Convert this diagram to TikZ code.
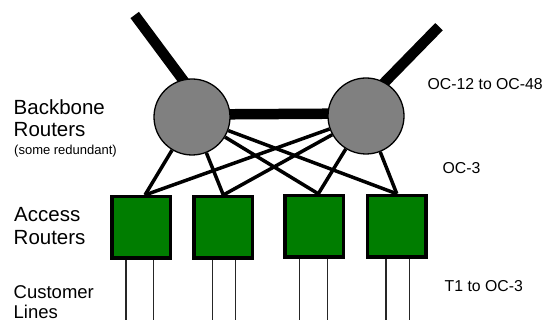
\documentclass[tikz,border=0pt]{standalone}
\usepackage{fontspec}
\setmainfont{Liberation Sans}
\usetikzlibrary{calc}
\definecolor{routergray}{RGB}{128,128,128}
\definecolor{accessgreen}{RGB}{0,125,0}
\pgfdeclarelayer{background}
\pgfsetlayers{background,main}
\begin{document}
\begin{tikzpicture}[x=1pt,y=-1pt,
  bbrouter/.style={circle, draw=black, line width=1.3pt, fill=routergray, minimum size=76pt, inner sep=0pt},
  accrouter/.style={rectangle, draw=black, line width=3.5pt, fill=accessgreen, minimum width=58.5pt, minimum height=61.5pt, inner sep=0pt},
  trunk/.style={line width=10.5pt},
  uplink/.style={line width=3.5pt},
  custline/.style={line width=1.1pt, draw=black!85},
  biglabel/.style={anchor=base west, inner sep=0pt, font=\fontsize{20.5}{22.5}\selectfont},
  midlabel/.style={anchor=base west, inner sep=0pt, font=\fontsize{18.5}{21}\selectfont},
  smalllabel/.style={anchor=base west, inner sep=0pt, font=\fontsize{13}{15}\selectfont},
  ratelabel/.style={anchor=base west, inner sep=0pt, font=\fontsize{15.8}{18}\selectfont}
]
\useasboundingbox (0,0) rectangle (546,320);

% backbone routers
\node[bbrouter] (L) at (192,117) {};
\node[bbrouter] (R) at (366,116) {};

% access routers
\node[accrouter] (a1) at (141,227.5) {};
\node[accrouter] (a2) at (223.3,227.5) {};
\node[accrouter] (a3) at (314.3,226.3) {};
\node[accrouter] (a4) at (396.8,226.3) {};

% free ends
\coordinate (tl) at (134.7,15);
\coordinate (tr) at (439,26.7);
\coordinate (c11) at (126,320);
\coordinate (c12) at (153.3,320);
\coordinate (c21) at (212.3,320);
\coordinate (c22) at (235.7,320);
\coordinate (c31) at (299.3,320);
\coordinate (c32) at (327.3,320);
\coordinate (c41) at (386,320);
\coordinate (c42) at (409.3,320);

\begin{pgfonlayer}{background}
  \draw[trunk] (tl) -- ($(tl)!1.2!(L.104)$);
  \draw[trunk] (tr) -- ($(tr)!1.2!(R.61)$);
  \draw[trunk] ([yshift=2.5pt]L.center) -- ([yshift=2.5pt]R.center);
  \draw[uplink] (L) -- ([xshift=4pt]a1.north);
  \draw[uplink] (L) -- (a2.north);
  \draw[uplink] (L) -- ([xshift=4pt]a3.north);
  \draw[uplink] (L) -- (a4.north);
  \draw[uplink] (R) -- ([xshift=4pt]a1.north);
  \draw[uplink] (R) -- (a2.north);
  \draw[uplink] (R) -- ([xshift=4pt]a3.north);
  \draw[uplink] (R) -- (a4.north);
  \draw[custline] (a1.south -| c11) -- (c11);
  \draw[custline] (a1.south -| c12) -- (c12);
  \draw[custline] (a2.south -| c21) -- (c21);
  \draw[custline] (a2.south -| c22) -- (c22);
  \draw[custline] (a3.south -| c31) -- (c31);
  \draw[custline] (a3.south -| c32) -- (c32);
  \draw[custline] (a4.south -| c41) -- (c41);
  \draw[custline] (a4.south -| c42) -- (c42);
\end{pgfonlayer}

% labels
\node[biglabel] (lbb1) at (13.5,114.3) {Backbone};
\node[biglabel] (lbb2) at (13.5,137) {Routers};
\node[smalllabel] (lbb3) at (14,155) {(some redundant)};
\node[biglabel] (lac1) at (14,221.7) {Access};
\node[biglabel] (lac2) at (13.5,245) {Routers};
\node[midlabel] (lcu1) at (13.5,298.3) {Customer};
\node[midlabel] (lcu2) at (13.5,319) {Lines};
\node[ratelabel] (r1) at (427.5,90) {OC-12 to OC-48};
\node[ratelabel] (r2) at (442.5,173.3) {OC-3};
\node[ratelabel] (r3) at (444.5,291.6) {T1 to OC-3};
\end{tikzpicture}
\end{document}
